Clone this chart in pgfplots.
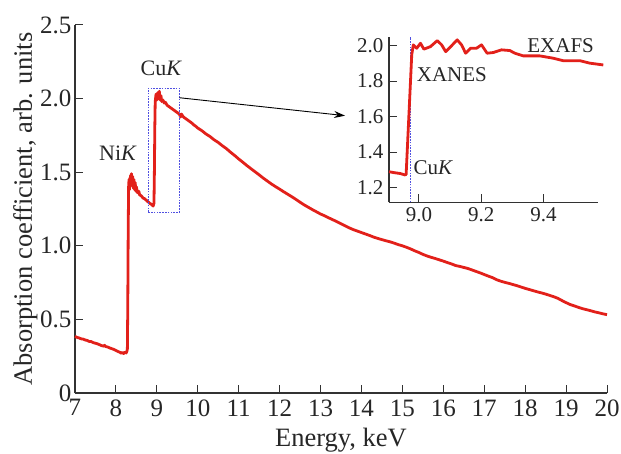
\documentclass[border=0pt]{standalone}
\usepackage{fontspec}
\setmainfont{Liberation Serif}
\usepackage{pgfplots}
\pgfplotsset{compat=1.18}
\usetikzlibrary{arrows.meta}

\definecolor{curvered}{RGB}{226,32,26}
\definecolor{boxblue}{RGB}{80,80,225}
\definecolor{axgray}{RGB}{50,50,50}

\pgfplotstableread{
x y
7.00 0.385
7.05 0.378
7.10 0.374
7.15 0.368
7.20 0.366
7.25 0.360
7.30 0.357
7.35 0.350
7.40 0.349
7.45 0.342
7.50 0.338
7.55 0.334
7.60 0.328
7.65 0.322
7.70 0.318
7.72 0.324
7.75 0.316
7.80 0.312
7.85 0.306
7.90 0.301
7.95 0.296
8.00 0.289
8.05 0.282
8.10 0.276
8.13 0.270
8.16 0.276
8.19 0.268
8.22 0.278
8.25 0.272
8.27 0.285
8.28 0.300
8.29 0.60
8.30 1.10
8.31 1.40
8.32 1.45
8.33 1.38
8.34 1.46
8.35 1.40
8.36 1.48
8.37 1.41
8.38 1.49
8.40 1.42
8.41 1.47
8.43 1.39
8.44 1.45
8.46 1.38
8.47 1.43
8.49 1.37
8.50 1.40
8.53 1.36
8.56 1.37
8.58 1.345
8.62 1.34
8.66 1.325
8.70 1.32
8.74 1.31
8.78 1.30
8.82 1.29
8.86 1.283
8.89 1.275
8.91 1.270
8.93 1.29
8.94 1.50
8.95 1.80
8.96 1.98
8.98 2.03
9.00 1.99
9.02 2.04
9.04 2.00
9.06 2.05
9.08 1.99
9.10 2.02
9.12 1.98
9.15 1.99
9.18 1.97
9.21 1.975
9.25 1.955
9.30 1.945
9.35 1.935
9.40 1.925
9.45 1.915
9.50 1.905
9.55 1.895
9.58 1.875
9.60 1.895
9.65 1.875
9.70 1.865
9.75 1.855
9.80 1.845
9.85 1.835
9.90 1.822
9.95 1.812
10.00 1.800
10.10 1.782
10.20 1.760
10.30 1.742
10.40 1.720
10.50 1.702
10.60 1.680
10.70 1.660
10.80 1.636
10.90 1.614
11.00 1.590
11.10 1.568
11.20 1.545
11.30 1.524
11.40 1.503
11.50 1.482
11.60 1.460
11.70 1.440
11.80 1.420
11.90 1.402
12.00 1.385
12.10 1.367
12.20 1.350
12.30 1.333
12.40 1.315
12.50 1.296
12.60 1.278
12.70 1.262
12.80 1.246
12.90 1.231
13.00 1.216
13.10 1.204
13.20 1.190
13.30 1.177
13.40 1.164
13.50 1.150
13.60 1.136
13.70 1.122
13.80 1.110
13.90 1.100
14.00 1.090
14.10 1.080
14.20 1.070
14.30 1.059
14.40 1.050
14.50 1.042
14.60 1.034
14.70 1.027
14.80 1.018
14.90 1.008
15.00 1.000
15.10 0.990
15.20 0.979
15.30 0.966
15.40 0.955
15.50 0.942
15.60 0.931
15.70 0.922
15.80 0.914
15.90 0.905
16.00 0.896
16.10 0.886
16.20 0.877
16.30 0.866
16.40 0.860
16.50 0.853
16.60 0.846
16.70 0.836
16.80 0.826
16.90 0.816
17.00 0.805
17.10 0.794
17.20 0.784
17.30 0.770
17.40 0.760
17.50 0.752
17.60 0.745
17.70 0.737
17.80 0.729
17.90 0.720
18.00 0.711
18.10 0.703
18.20 0.695
18.30 0.687
18.40 0.680
18.50 0.672
18.60 0.663
18.70 0.654
18.80 0.643
18.90 0.628
19.00 0.614
19.10 0.601
19.20 0.592
19.30 0.582
19.40 0.573
19.50 0.566
19.60 0.559
19.70 0.551
19.80 0.545
19.90 0.538
20.00 0.532
}\spectrum

\pgfplotstableread{
x y
8.904 1.290
8.920 1.285
8.940 1.280
8.955 1.272
8.959 1.275
8.977 1.948
8.982 2.004
8.993 1.985
9.005 2.013
9.016 1.980
9.037 1.994
9.059 2.028
9.073 2.004
9.086 1.966
9.102 1.994
9.123 2.032
9.137 2.004
9.150 1.957
9.166 1.985
9.185 1.985
9.201 2.004
9.219 1.957
9.239 1.961
9.265 1.976
9.292 1.972
9.308 1.957
9.335 1.942
9.388 1.942
9.431 1.929
9.463 1.915
9.517 1.915
9.549 1.901
9.592 1.891
}\edge

\begin{document}
\begin{tikzpicture}
\useasboundingbox (-75pt,-60pt) rectangle (546pt,393pt);

% main spectrum
\begin{axis}[
    at={(0pt,0pt)}, anchor=south west,
    width=532pt, height=368pt, scale only axis,
    xmin=7, xmax=20, ymin=0, ymax=2.5,
    axis lines=left,
    axis line style={-, line width=1.2pt, axgray},
    tick style={line width=1pt, axgray},
    tick align=inside, major tick length=8pt,
    xtick={7,8,...,20},
    xticklabels={7,8,9,10,11,12,13,14,15,16,17,18,19,20},
    ytick={0,0.5,1.0,1.5,2.0,2.5},
    yticklabels={0,0.5,1.0,1.5,2.0,2.5},
    /pgf/number format/assume math mode=true,
    ticklabel style={font=\fontsize{25}{25}\selectfont, text=black!85},
    xticklabel style={yshift=-3pt},
    xlabel={Energy, keV},
    ylabel={Absorption coefficient, arb. units},
    every axis x label/.style={at={(axis description cs:0.5,-0.146)}, anchor=base,
        font=\fontsize{26.5}{26.5}\selectfont, text=black!85},
    every axis y label/.style={at={(axis description cs:-0.081,0.5)}, rotate=90, anchor=base,
        font=\fontsize{26.5}{26.5}\selectfont, text=black!85},
    clip=false,
]
\addplot[curvered, line width=2.8pt, line join=round] table[x=x, y=y] {\spectrum};

\draw[boxblue, line width=0.8pt, dash pattern=on 1.6pt off 1.2pt]
    (axis cs:8.79,1.23) rectangle (axis cs:9.55,2.07);
\draw[-{Stealth[length=11pt, width=7pt]}, line width=0.9pt, black]
    (axis cs:9.55,2.006) -- (axis cs:13.60,1.884);

\node[anchor=base, font=\fontsize{22}{22}\selectfont, text=black!85]
    at (axis cs:9.107,2.16) {Cu\textit{K}};
\node[anchor=base, font=\fontsize{22}{22}\selectfont, text=black!85]
    at (axis cs:8.05,1.578) {Ni\textit{K}};
\end{axis}

% inset: Cu K edge
\begin{axis}[
    at={(314pt,190.7pt)}, anchor=south west,
    width=209.3pt, height=165.6pt, scale only axis,
    xmin=8.904, xmax=9.576, ymin=1.118, ymax=2.05,
    axis lines=left,
    axis line style={-, line width=1.2pt, axgray},
    tick style={line width=1pt, axgray},
    tick align=inside, major tick length=8pt,
    xtick={9.0,9.2,9.4},
    xticklabels={9.0,9.2,9.4},
    ytick={1.2,1.4,1.6,1.8,2.0},
    yticklabels={1.2,1.4,1.6,1.8,2.0},
    /pgf/number format/assume math mode=true,
    ticklabel style={font=\fontsize{21}{21}\selectfont, text=black!85},
    xticklabel style={yshift=-2pt},
    yticklabel style={xshift=-2pt},
    clip=false,
]
\draw[boxblue, line width=0.8pt, dash pattern=on 1.6pt off 1.2pt]
    (axis cs:8.973,1.118) -- (axis cs:8.973,2.05);
\addplot[curvered, line width=2.8pt, line join=round] table[x=x, y=y] {\edge};

\node[anchor=base, font=\fontsize{21}{21}\selectfont, text=black!85]
    at (axis cs:9.455,1.963) {EXAFS};
\node[anchor=base, font=\fontsize{21}{21}\selectfont, text=black!85]
    at (axis cs:9.106,1.797) {XANES};
\node[anchor=base, font=\fontsize{21}{21}\selectfont, text=black!85]
    at (axis cs:9.046,1.277) {Cu\textit{K}};
\end{axis}
\end{tikzpicture}
\end{document}
